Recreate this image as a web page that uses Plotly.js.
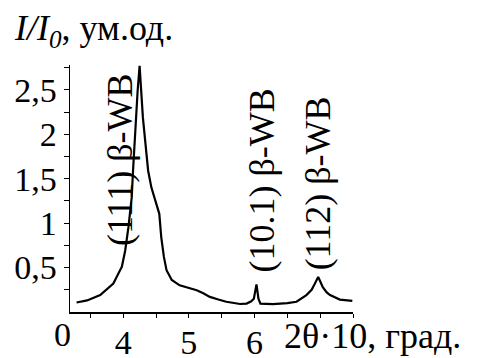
<!DOCTYPE html>
<html>
<head>
<meta charset="utf-8">
<script src="https://cdn.plot.ly/plotly-3.0.1.min.js"></script>
<style>
html,body{margin:0;padding:0;background:#fff;}
#chart{width:484px;height:358px;}
#chart svg text{font-family:'Liberation Serif','Times New Roman',serif !important;}
</style>
</head>
<body>
<div id="chart"></div>
<script>
// 2θ·10 (deg) values and relative intensity I/I0
const twoTheta = [3.29, 3.45, 3.65, 3.85, 3.98, 4.03, 4.08, 4.13, 4.15, 4.19, 4.22, 4.25, 4.30, 4.34, 4.38, 4.43, 4.47, 4.50, 4.55, 4.58, 4.62, 4.66, 4.74, 4.86, 5.00, 5.12, 5.22, 5.32, 5.45, 5.57, 5.78, 5.88, 5.95, 5.99, 6.03, 6.06, 6.09, 6.28, 6.50, 6.64, 6.79, 6.87, 6.92, 6.97, 7.01, 7.04, 7.10, 7.15, 7.30, 7.49];
const intensity = [0.107, 0.13, 0.19, 0.32, 0.51, 0.69, 0.955, 1.29, 1.59, 2.19, 2.49, 2.77, 2.19, 1.89, 1.59, 1.40, 1.30, 1.22, 1.105, 0.84, 0.62, 0.47, 0.36, 0.30, 0.27, 0.245, 0.21, 0.17, 0.14, 0.115, 0.09, 0.095, 0.12, 0.15, 0.31, 0.15, 0.095, 0.089, 0.10, 0.115, 0.19, 0.25, 0.32, 0.395, 0.33, 0.28, 0.22, 0.19, 0.14, 0.125];

const xTickVals = [4, 5, 6];
const xTickText = ['4', '5', '6'];
const xMinorVals = [3.5, 4.5, 5.5, 6.5, 7, 7.5];
const yTickVals = [0.5, 1, 1.5, 2, 2.5];
const yTickText = ['0,5', '1', '1,5', '2', '2,5'];
const yMinorVals = [0.25, 0.75, 1.25, 1.75, 2.25, 2.75];

const peakLabels = ['(111) β-WB', '(10.1) β-WB', '(112) β-WB'];
const peakLabelX = [3.95, 6.10, 6.97];
const peakLabelY = [1.72, 1.48, 1.45];

const F = 'Liberation Serif';

const trace = {
  x: twoTheta, y: intensity, type: 'scatter', mode: 'lines',
  line: {color: '#000', width: 2.2}, hoverinfo: 'none'
};

const annotations = peakLabels.map((t, i) => ({
  x: peakLabelX[i], y: peakLabelY[i], xref: 'x', yref: 'y',
  text: t, textangle: -90, showarrow: false,
  xanchor: 'center', yanchor: 'middle',
  font: {family: F, size: 36, color: '#000'}
}));
annotations.push({
  xref: 'paper', yref: 'paper', x: -0.205, y: 1.14, xanchor: 'left', yanchor: 'middle',
  text: '<i>I/I<sub>0</sub></i>, ум.од.', showarrow: false,
  font: {family: F, size: 36, color: '#000'}
});
annotations.push({
  xref: 'paper', yref: 'paper', x: 0.749, y: -0.097, xanchor: 'left', yanchor: 'middle',
  text: '2θ·10, град.', showarrow: false,
  font: {family: F, size: 36, color: '#000'}
});
annotations.push({
  xref: 'paper', yref: 'paper', x: -0.028, y: -0.093, xanchor: 'center', yanchor: 'middle',
  text: '0', showarrow: false,
  font: {family: F, size: 34, color: '#000'}
});

const layout = {
  width: 484, height: 358,
  margin: {l: 70, r: 131, t: 65, b: 46, pad: 0},
  paper_bgcolor: '#fff', plot_bgcolor: '#fff',
  font: {family: F, color: '#000'},
  showlegend: false,
  xaxis: {
    range: [3.19, 7.5], showgrid: false, zeroline: false,
    showline: true, linecolor: '#000', linewidth: 1.5,
    ticks: 'outside', ticklen: 4, tickwidth: 1, tickcolor: '#000',
    tickmode: 'array', tickvals: xTickVals, ticktext: xTickText,
    ticklabelstandoff: -4,
    minor: {tickmode: 'array', tickvals: xMinorVals, ticks: 'outside', ticklen: 4, tickwidth: 1, tickcolor: '#000', showgrid: false},
    tickfont: {family: F, size: 34, color: '#000'}
  },
  yaxis: {
    range: [0, 2.78], showgrid: false, zeroline: false,
    showline: true, linecolor: '#000', linewidth: 1.5,
    ticks: 'outside', ticklen: 5, tickwidth: 1, tickcolor: '#000',
    tickmode: 'array', tickvals: yTickVals, ticktext: yTickText,
    minor: {tickmode: 'array', tickvals: yMinorVals, ticks: 'outside', ticklen: 5, tickwidth: 1, tickcolor: '#000', showgrid: false},
    tickfont: {family: F, size: 34, color: '#000'}
  },
  annotations: annotations
};

Plotly.newPlot('chart', [trace], layout, {staticPlot: true, displayModeBar: false});
</script>
</body>
</html>
